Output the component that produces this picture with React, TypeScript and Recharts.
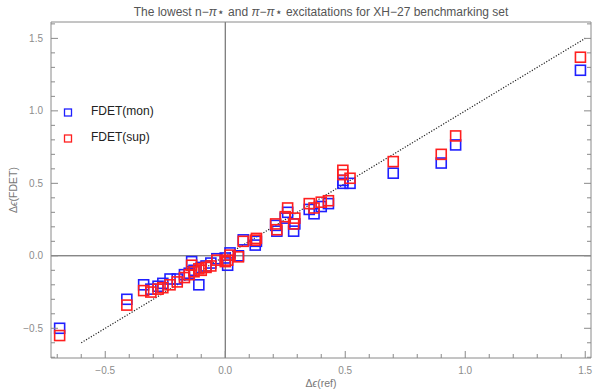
import { ReferenceLine, Scatter, ScatterChart, XAxis, YAxis } from 'recharts';

// reference excitation energies and FDET deviations
const refX = [
  -0.69, -0.41, -0.34, -0.31, -0.28, -0.26, -0.23, -0.2, -0.17, -0.15, -0.14, -0.13, -0.11, -0.1,
  -0.08, -0.06, -0.035, 0.0, 0.01, 0.02, 0.055, 0.075, 0.125, 0.13, 0.21, 0.215, 0.25, 0.26, 0.285,
  0.29, 0.35, 0.37, 0.4, 0.43, 0.49, 0.49, 0.52, 0.7, 0.9, 0.96, 1.48,
];
const monY = [
  -0.5, -0.3, -0.2, -0.23, -0.21, -0.19, -0.16, -0.16, -0.13, -0.12, -0.04, -0.1, -0.2, -0.08,
  -0.07, -0.05, -0.02, -0.015, -0.065, 0.02, 0.0, 0.11, 0.074, 0.1, 0.21, 0.17, 0.26, 0.3, 0.17,
  0.22, 0.32, 0.29, 0.34, 0.36, 0.52, 0.5, 0.5, 0.57, 0.64, 0.765, 1.28,
];
const supY = [
  -0.55, -0.34, -0.24, -0.25, -0.23, -0.22, -0.2, -0.18, -0.15, -0.13, -0.065, -0.11, -0.09, -0.1,
  -0.08, -0.07, -0.03, -0.04, -0.03, 0.005, -0.007, 0.1, 0.108, 0.12, 0.22, 0.18, 0.27, 0.33, 0.22,
  0.26, 0.36, 0.33, 0.37, 0.38, 0.59, 0.56, 0.535, 0.65, 0.7, 0.827, 1.37,
];

const xTicks = [
  -0.7, -0.6, -0.5, -0.4, -0.3, -0.2, -0.1, 0, 0.1, 0.2, 0.3, 0.4, 0.5, 0.6, 0.7, 0.8, 0.9, 1.0,
  1.1, 1.2, 1.3, 1.4, 1.5,
];
const yTicks = [
  -0.7, -0.6, -0.5, -0.4, -0.3, -0.2, -0.1, 0, 0.1, 0.2, 0.3, 0.4, 0.5, 0.6, 0.7, 0.8, 0.9, 1.0,
  1.1, 1.2, 1.3, 1.4, 1.5, 1.6,
];
const diagonal = [-0.6, 1.5];

const monData = refX.map((x, i) => ({ x, y: monY[i] }));
const supData = refX.map((x, i) => ({ x, y: supY[i] }));

const FRAME = '#8a8a8a';
const LABEL = '#8c8c8c';
const FONT = '"Liberation Sans", Arial, sans-serif';

const isMajor = (v: number) => Math.abs(v * 2 - Math.round(v * 2)) < 1e-6;
const fmt = (v: number) => (v < 0 ? '\u2212' : '') + Math.abs(v).toFixed(1);

function makeTick(side: 'bottom' | 'top' | 'left' | 'right') {
  return (props: any) => {
    const { x, y, payload } = props;
    const v = payload.value as number;
    const major = isMajor(v);
    const len = major ? 7 : 4;
    if (side === 'bottom') {
      return (
        <g>
          <line x1={x} y1={y} x2={x} y2={y - len} stroke={FRAME} />
          {major && (
            <text x={x} y={y + 16} textAnchor="middle" fontSize={10} fill={LABEL} fontFamily={FONT}>
              {fmt(v)}
            </text>
          )}
        </g>
      );
    }
    if (side === 'top') return <line x1={x} y1={y} x2={x} y2={y + len} stroke={FRAME} />;
    if (side === 'right') return <line x1={x} y1={y} x2={x - len} y2={y} stroke={FRAME} />;
    return (
      <g>
        <line x1={x} y1={y} x2={x + len} y2={y} stroke={FRAME} />
        {major && (
          <text x={x - 8} y={y + 3.5} textAnchor="end" fontSize={10} fill={LABEL} fontFamily={FONT}>
            {fmt(v)}
          </text>
        )}
      </g>
    );
  };
}

function square(color: string) {
  return (props: any) => (
    <rect x={props.cx - 5} y={props.cy - 5} width={10} height={10} fill="none" stroke={color} strokeWidth={1.6} />
  );
}

export default function App() {
  return (
    <div style={{ position: 'absolute', left: 0, top: 0, width: 595, height: 392, background: '#fff' }}>
      <ScatterChart width={595} height={392} margin={{ top: 21, right: 3, bottom: 33, left: 50 }}>
        <XAxis
          type="number"
          dataKey="x"
          xAxisId={0}
          domain={[-0.726, 1.524]}
          allowDataOverflow
          ticks={xTicks}
          interval={0}
          height={1}
          tickSize={0}
          tickMargin={0}
          tickLine={false}
          tick={makeTick('bottom')}
          axisLine={{ stroke: FRAME }}
        />
        <XAxis
          type="number"
          xAxisId="top"
          orientation="top"
          domain={[-0.726, 1.524]}
          allowDataOverflow
          ticks={xTicks}
          interval={0}
          height={1}
          tickSize={0}
          tickMargin={0}
          tickLine={false}
          tick={makeTick('top')}
          axisLine={{ stroke: FRAME }}
        />
        <YAxis
          type="number"
          dataKey="y"
          yAxisId={0}
          domain={[-0.705, 1.613]}
          allowDataOverflow
          ticks={yTicks}
          interval={0}
          width={1}
          tickSize={0}
          tickMargin={0}
          tickLine={false}
          tick={makeTick('left')}
          axisLine={{ stroke: FRAME }}
        />
        <YAxis
          type="number"
          yAxisId="right"
          orientation="right"
          domain={[-0.705, 1.613]}
          allowDataOverflow
          ticks={yTicks}
          interval={0}
          width={1}
          tickSize={0}
          tickMargin={0}
          tickLine={false}
          tick={makeTick('right')}
          axisLine={{ stroke: FRAME }}
        />
        <ReferenceLine x={0} stroke="#555" strokeWidth={1} />
        <ReferenceLine y={0} stroke="#555" strokeWidth={1} />
        <ReferenceLine
          segment={[
            { x: diagonal[0], y: diagonal[0] },
            { x: diagonal[1], y: diagonal[1] },
          ]}
          stroke="#222"
          strokeWidth={1.2}
          strokeDasharray="1.2 1.6"
        />
        <Scatter name="FDET(mon)" data={monData} shape={square('#1f1fff')} isAnimationActive={false} />
        <Scatter name="FDET(sup)" data={supData} shape={square('#ff1f1f')} isAnimationActive={false} />
      </ScatterChart>
      <svg
        width={595}
        height={392}
        style={{ position: 'absolute', left: 0, top: 0, pointerEvents: 'none' }}
        fontFamily={FONT}
      >
        <text x={321} y={16} textAnchor="middle" fontSize={12} fill="#555">
          The lowest n{'\u2212'}
          <tspan fontStyle="italic">{'\u03c0'}</tspan>
          {'\u22c6'} and <tspan fontStyle="italic">{'\u03c0'}</tspan>
          {'\u2212'}
          <tspan fontStyle="italic">{'\u03c0'}</tspan>
          {'\u22c6'} excitatations for XH{'\u2212'}27 benchmarking set
        </text>
        <text x={321} y={387} textAnchor="middle" fontSize={10.5} fill="#777">
          {'\u0394'}
          <tspan fontStyle="italic">{'\u03f5'}</tspan>(ref)
        </text>
        <text x={17} y={190} textAnchor="middle" fontSize={10.5} fill="#777" transform="rotate(-90 17 190)">
          {'\u0394'}
          <tspan fontStyle="italic">{'\u03f5'}</tspan>(FDET)
        </text>
        <rect x={64.5} y={109} width={7} height={7} fill="none" stroke="#1f1fff" strokeWidth={1.3} />
        <text x={91} y={115} fontSize={12} fill="#222">FDET(mon)</text>
        <rect x={64.5} y={135} width={7} height={7} fill="none" stroke="#ff1f1f" strokeWidth={1.3} />
        <text x={91} y={141} fontSize={12} fill="#222">FDET(sup)</text>
      </svg>
    </div>
  );
}
